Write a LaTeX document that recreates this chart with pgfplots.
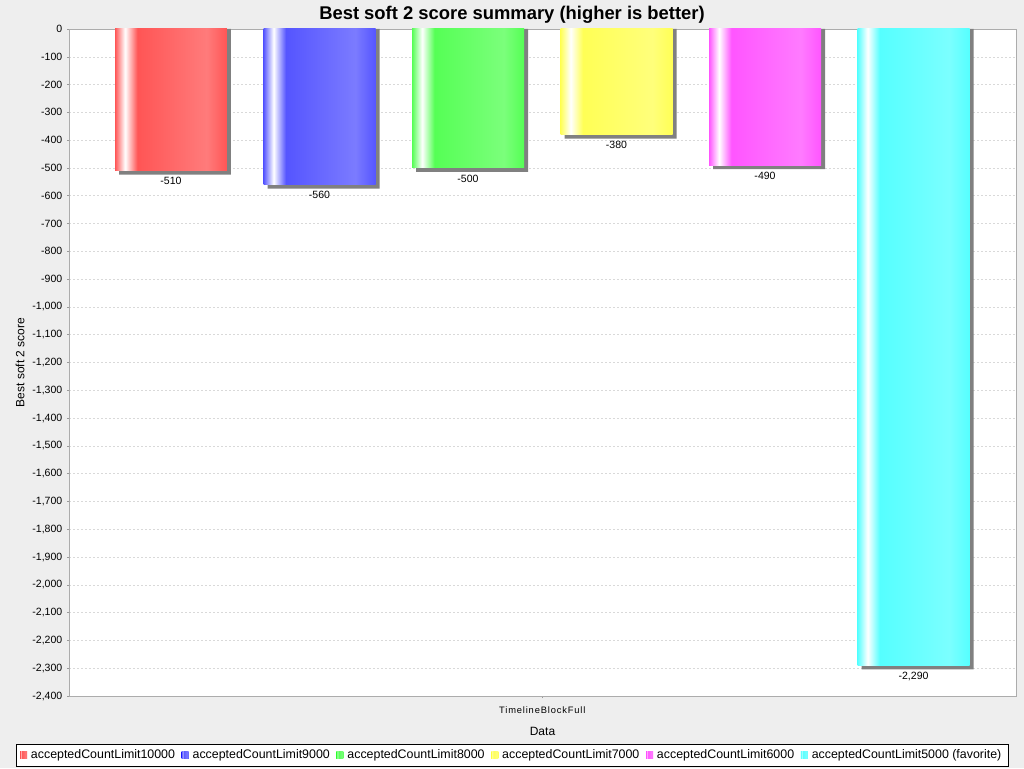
\documentclass[border=0pt]{standalone}
\usepackage{fontspec}
\setmainfont{Liberation Sans}
\usepackage{pgfplots}
\pgfplotsset{compat=1.18}
\definecolor{bgc}{HTML}{EEEEEE}
\definecolor{shadowc}{HTML}{808080}
\definecolor{cR}{HTML}{FF5555}\definecolor{cRl}{HTML}{FF7B7B}
\definecolor{cB}{HTML}{5555FF}\definecolor{cBl}{HTML}{7B7BFF}
\definecolor{cG}{HTML}{55FF55}\definecolor{cGl}{HTML}{7BFF7B}
\definecolor{cY}{HTML}{FFFF55}\definecolor{cYl}{HTML}{FFFF7B}
\definecolor{cM}{HTML}{FF55FF}\definecolor{cMl}{HTML}{FF7BFF}
\definecolor{cC}{HTML}{55FFFF}\definecolor{cCl}{HTML}{7BFFFF}
\newcommand\barshading[3]{%
 \pgfdeclarehorizontalshading{#1}{100bp}{color(0bp)=(#2); color(25bp)=(#2); color(29.5bp)=(white); color(35bp)=(#2); color(66bp)=(#3); color(75bp)=(#2); color(100bp)=(#2)}}
\barshading{shR}{cR}{cRl}
\barshading{shB}{cB}{cBl}
\barshading{shG}{cG}{cGl}
\barshading{shY}{cY}{cYl}
\barshading{shM}{cM}{cMl}
\barshading{shC}{cC}{cCl}
\pgfplotsset{
 mybar/.style n args={2}{shading=#1, draw=none,
   nodes near coords,
   legend image code/.code={\fill[#2] (0pt,-2.3pt) rectangle (5.25pt,2.95pt); \path (0pt,0pt) -- (6.2pt,0pt);}},
 shadowbar/.style={fill=shadowc, draw=none, forget plot, xshift=3pt, y filter/.expression={y-14.4}},
}
\begin{document}
\begin{tikzpicture}
\fill[bgc] (0,0) rectangle (768pt,576pt);
\node[font=\fontsize{13.8}{16}\selectfont\bfseries] at (384pt,564.75pt) {Best soft 2 score summary (higher is better)};
\begin{axis}[
 at={(51.75pt,54pt)}, anchor=south west,
 scale only axis, width=710.25pt, height=500.25pt,
 axis background/.style={fill=white},
 ybar, bar width=0.754, bar shift=0pt,
 xmin=-0.6869, xmax=5.690, ymin=-2400, ymax=0,
 enlargelimits=false,
 xtick={2.5}, xticklabels={TimelineBlockFull},
 ytick={-2400,-2300,...,0},
 scaled y ticks=false,
 /pgf/number format/1000 sep={,},
 /pgf/number format/assume math mode=true,
 tick align=outside, major tick length=1.5pt,
 xtick pos=bottom, ytick pos=left,
 tick style={draw=gray!80, thin},
 axis line style={draw=gray!65},
 ymajorgrids, grid style={draw=gray!30, dash pattern=on 1.5pt off 1.5pt, line width=0.4pt},
 yticklabel style={font=\fontsize{7.9}{9}\selectfont},
 xticklabel style={font=\fontsize{7}{8}\selectfont\addfontfeature{LetterSpace=9}, yshift=-3pt},
 xlabel={Data}, ylabel={Best soft 2 score},
 xlabel style={font=\fontsize{9}{10}\selectfont, at={(axis description cs:0.5,-0.0525)}, anchor=center},
 ylabel style={font=\fontsize{9}{10}\selectfont, at={(axis description cs:-0.0517,0.5)}, anchor=center},
 every node near coord/.append style={font=\fontsize{7.9}{9}\selectfont, text=black, yshift=-1.5pt},
 legend style={at={(axis description cs:0.4678,-0.0892)}, anchor=center, legend columns=6,
   draw=black, fill=white, font=\fontsize{9.3}{11}\selectfont,
   /tikz/every even column/.append style={column sep=3pt}},
]
\addplot[shadowbar] coordinates {(0,-510) (1,-560) (2,-500) (3,-380) (4,-490) (5,-2290)};
\addplot[mybar={shR}{cR}] coordinates {(0,-510)};
\addlegendentry{acceptedCountLimit10000}
\addplot[mybar={shB}{cB}] coordinates {(1,-560)};
\addlegendentry{acceptedCountLimit9000}
\addplot[mybar={shG}{cG}] coordinates {(2,-500)};
\addlegendentry{acceptedCountLimit8000}
\addplot[mybar={shY}{cY}] coordinates {(3,-380)};
\addlegendentry{acceptedCountLimit7000}
\addplot[mybar={shM}{cM}] coordinates {(4,-490)};
\addlegendentry{acceptedCountLimit6000}
\addplot[mybar={shC}{cC}] coordinates {(5,-2290)};
\addlegendentry{acceptedCountLimit5000 (favorite)}
\end{axis}
\pgfresetboundingbox
\useasboundingbox (0,0) rectangle (768pt,576pt);
\end{tikzpicture}
\end{document}
